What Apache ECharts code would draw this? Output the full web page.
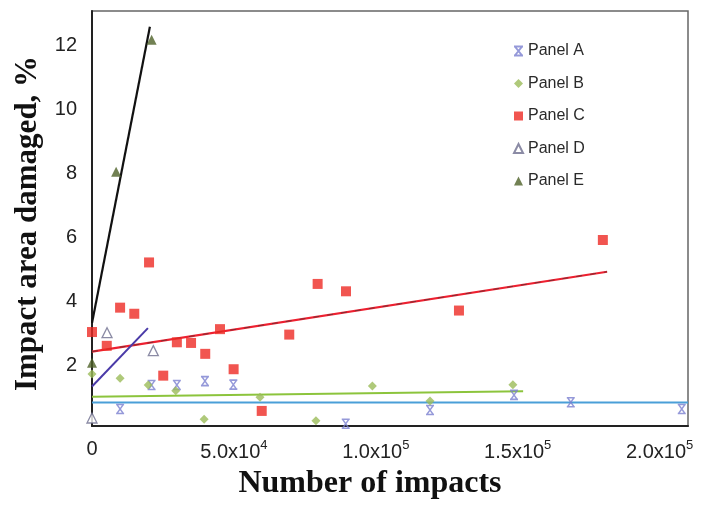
<!DOCTYPE html>
<html>
<head>
<meta charset="utf-8">
<script src="https://cdn.jsdelivr.net/npm/echarts@6/dist/echarts.min.js"></script>
<style>html,body{margin:0;padding:0;background:#fff;}#c{width:707px;height:513px;}</style>
</head>
<body>
<div id="c"></div>
<script>
// ---- data ----
const seriesNames = ['Panel A', 'Panel B', 'Panel C', 'Panel D', 'Panel E'];
const panelA = [[9900,0.65],[21000,1.40],[29900,1.40],[39800,1.52],[49800,1.41],[89400,0.19],[119100,0.62],[148700,1.09],[168700,0.86],[207800,0.65]];
const panelB = [[0,1.74],[9900,1.61],[19800,1.40],[29500,1.22],[39500,0.33],[59200,1.02],[78900,0.28],[98800,1.37],[119100,0.90],[148300,1.41]];
const panelC = [[0,3.05],[5200,2.62],[9900,3.81],[14900,3.62],[20100,5.22],[25100,1.69],[29900,2.73],[34900,2.71],[39900,2.37],[45100,3.14],[49900,1.89],[59800,0.59],[69500,2.97],[79500,4.55],[89500,4.32],[129300,3.72],[180000,5.92]];
const panelD = [[0,0.37],[5300,3.03],[21600,2.47]];
const panelE = [[0,2.09],[8500,8.05],[21000,12.16]];
// linear trend lines (end points)
const trendA = [[0,0.85],[210000,0.85]];
const trendB = [[0,1.03],[151900,1.20]];
const trendC = [[0,2.44],[181500,4.93]];
const trendD = [[0,1.35],[19700,3.17]];
const trendE = [[0,3.33],[20400,12.57]];
// tick labels
const xTicks = [0, 50000, 100000, 150000, 200000];
const xTickText = {0: ['0', ''], 50000: ['5.0x10', '4'], 100000: ['1.0x10', '5'], 150000: ['1.5x10', '5'], 200000: ['2.0x10', '5']};
const yTicks = [2, 4, 6, 8, 10, 12];

const xMark = 'path://M0,0L10,0M0,10L10,10M1,0L9,10M9,0L1,10';

const chart = echarts.init(document.getElementById('c'), null, {renderer: 'canvas'});
const option = {
  backgroundColor: '#ffffff',
  animation: false,
  grid: {left: 92, right: 19, top: 11, bottom: 87, show: true, borderColor: '#666', borderWidth: 1.5, containLabel: false},
  legend: {
    orient: 'vertical', left: 508, top: 38,
    data: seriesNames,
    itemWidth: 9, itemHeight: 9, itemGap: 16.5,
    textStyle: {fontFamily: 'Liberation Sans', fontSize: 16, color: '#2a2a2a', lineHeight: 16}
  },
  xAxis: {
    type: 'value', min: 0, max: 210000,
    name: 'Number of impacts', nameLocation: 'middle', nameGap: 40,
    nameTextStyle: {fontFamily: 'Liberation Serif', fontWeight: 'bold', fontSize: 32, color: '#111', padding: [0, 40, 0, 0]},
    axisLine: {show: true, lineStyle: {color: '#222', width: 2}},
    axisTick: {show: false},
    splitLine: {show: false},
    axisLabel: {
      customValues: xTicks, margin: 13,
      formatter: function (v) { const t = xTickText[v]; return t[1] ? '{b|' + t[0] + '}{s|' + t[1] + '}' : '{b|' + t[0] + '}'; },
      rich: {
        b: {fontFamily: 'Liberation Sans', fontSize: 20, color: '#222'},
        s: {fontFamily: 'Liberation Sans', fontSize: 13, color: '#222', verticalAlign: 'top', padding: [0, 0, 14, 0]}
      }
    }
  },
  yAxis: {
    type: 'value', min: 0.12, max: 13.06,
    name: 'Impact area damaged, %', nameLocation: 'middle', nameGap: 49, nameRotate: 90,
    nameTextStyle: {fontFamily: 'Liberation Serif', fontWeight: 'bold', fontSize: 31, color: '#111', padding: [0, 10, 0, 0]},
    axisLine: {show: true, lineStyle: {color: '#222', width: 2}},
    axisTick: {show: false},
    splitLine: {show: false},
    axisLabel: {customValues: yTicks, margin: 15, fontFamily: 'Liberation Sans', fontSize: 20, color: '#222'}
  },
  series: [
    {name: 'trendA', type: 'line', data: trendA, showSymbol: false, silent: true, lineStyle: {color: '#4a9fd8', width: 2}, z: 1},
    {name: 'trendB', type: 'line', data: trendB, showSymbol: false, silent: true, lineStyle: {color: '#8cc43c', width: 2}, z: 1},
    {name: 'trendC', type: 'line', data: trendC, showSymbol: false, silent: true, lineStyle: {color: '#ee2030', width: 2.2}, z: 1},
    {name: 'trendC2', type: 'line', data: trendC, showSymbol: false, silent: true, lineStyle: {color: '#333', width: 1, type: [6, 8], opacity: 0.6}, z: 1},
    {name: 'trendD', type: 'line', data: trendD, showSymbol: false, silent: true, lineStyle: {color: '#4a3aa8', width: 2}, z: 1},
    {name: 'trendE', type: 'line', data: trendE, showSymbol: false, silent: true, lineStyle: {color: '#111', width: 2.2}, z: 1},
    {name: 'Panel A', type: 'scatter', data: panelA, symbol: xMark, symbolSize: [8, 9],
      itemStyle: {color: 'rgba(0,0,0,0)', borderColor: '#7b7fcf', borderWidth: 1.5}, z: 3},
    {name: 'Panel B', type: 'scatter', data: panelB, symbol: 'diamond', symbolSize: 9,
      itemStyle: {color: '#9bbb59'}, z: 3},
    {name: 'Panel C', type: 'scatter', data: panelC, symbol: 'rect', symbolSize: 10,
      itemStyle: {color: '#ee2b24'}, z: 4},
    {name: 'Panel D', type: 'scatter', data: panelD, symbol: 'triangle', symbolSize: 10,
      itemStyle: {color: '#ffffff', borderColor: '#6e6e8e', borderWidth: 1.3}, z: 3},
    {name: 'Panel E', type: 'scatter', data: panelE, symbol: 'triangle', symbolSize: 10,
      itemStyle: {color: '#4f6228'}, z: 3}
  ]
};
chart.setOption(option);
</script>
</body>
</html>
